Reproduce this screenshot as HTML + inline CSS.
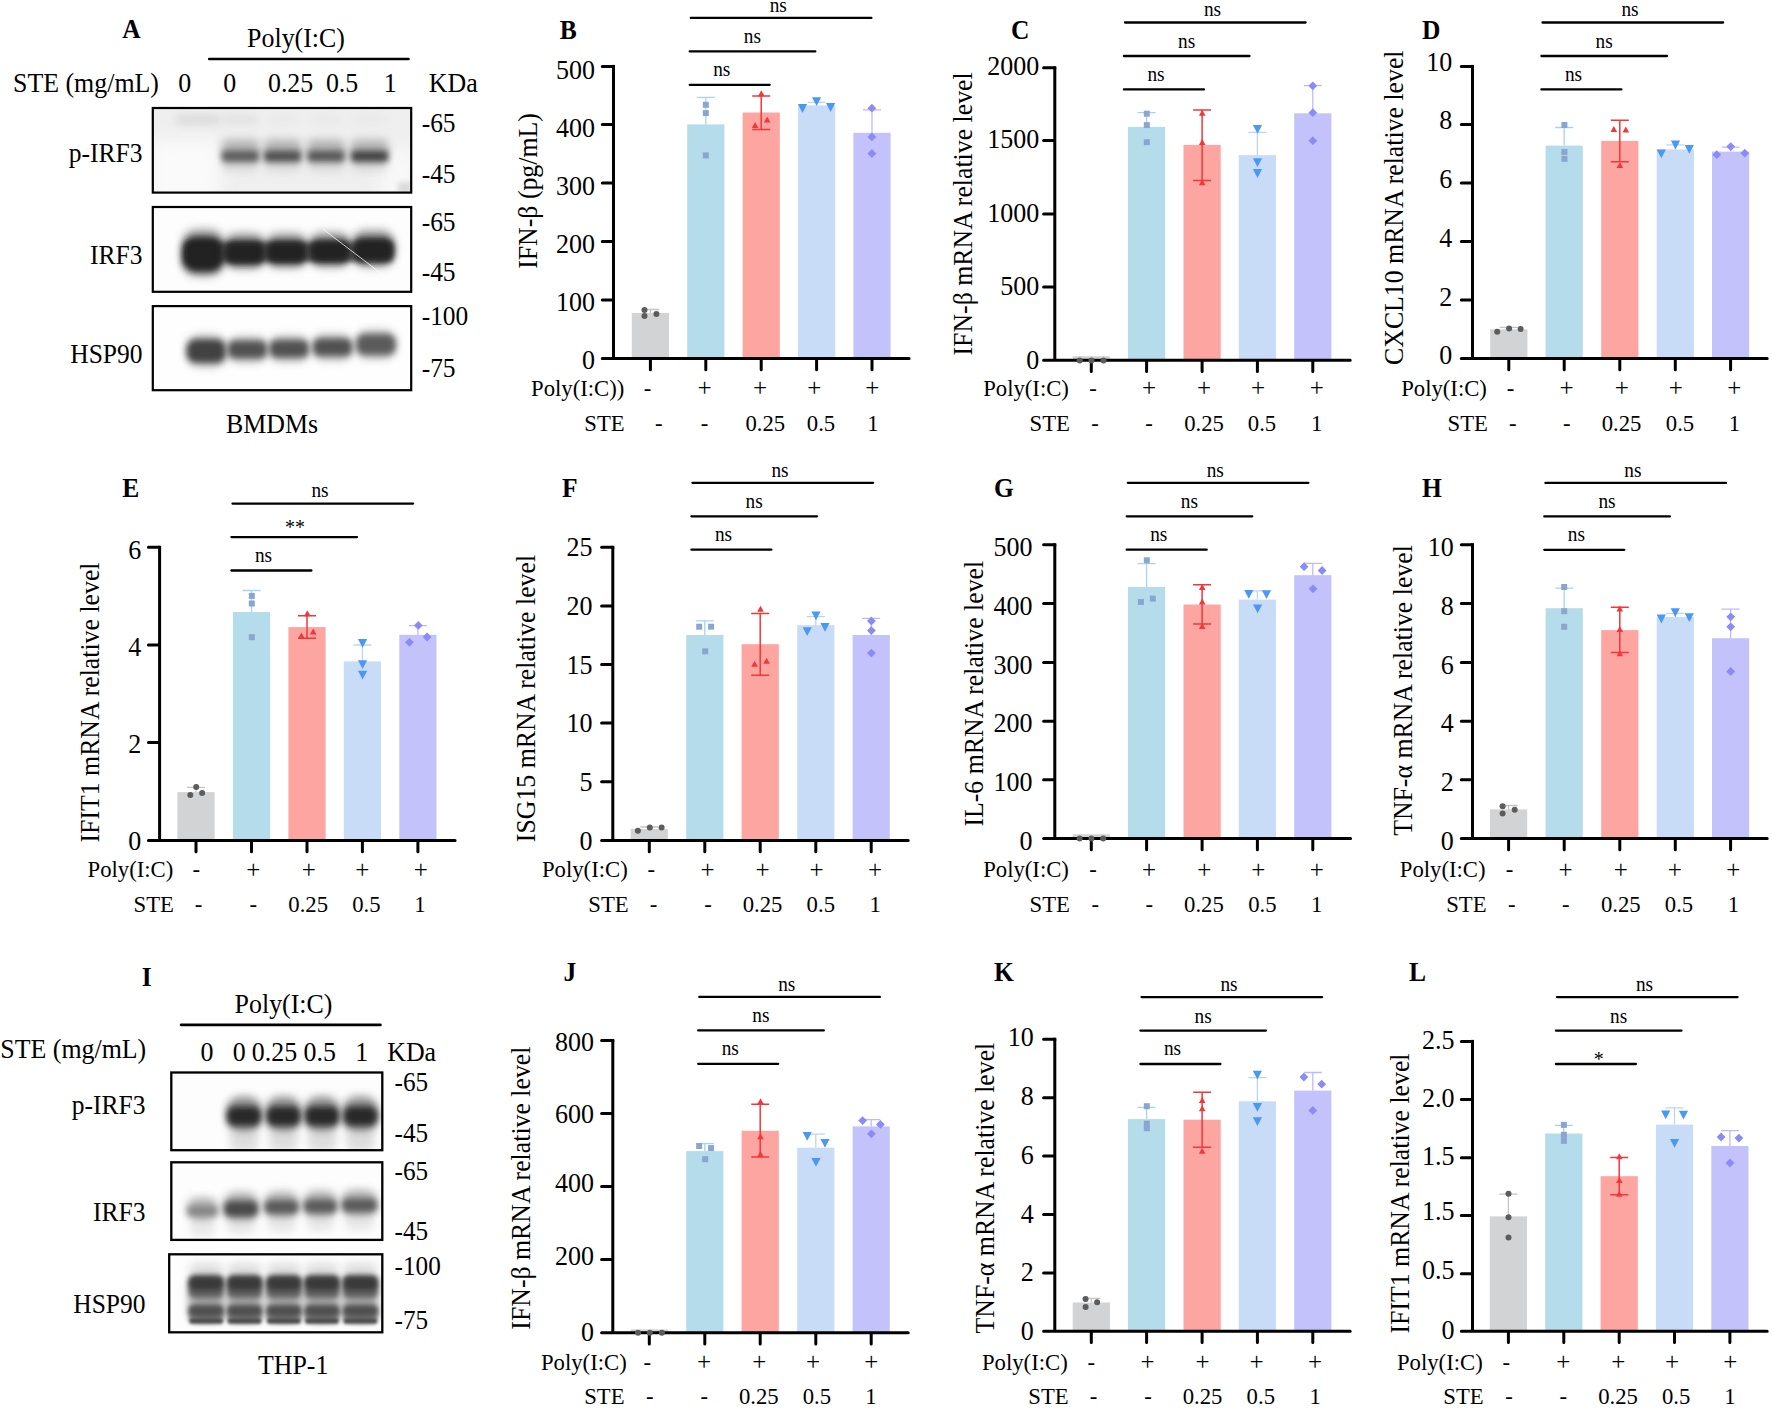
<!DOCTYPE html>
<html lang="en"><head><meta charset="utf-8"><title>Figure</title>
<style>
html,body{margin:0;padding:0;background:#fff;}
body{width:1772px;height:1408px;overflow:hidden;}
svg{display:block;font-family:"Liberation Serif", "DejaVu Serif", serif;fill:#000;}
</style></head><body>
<svg width="1772" height="1408" viewBox="0 0 1772 1408">
<rect width="1772" height="1408" fill="#fff"/>
<defs>
<filter id="b2" x="-50%" y="-100%" width="200%" height="300%"><feGaussianBlur stdDeviation="1.6"/></filter>
<filter id="b3" x="-50%" y="-100%" width="200%" height="300%"><feGaussianBlur stdDeviation="2.6"/></filter>
<filter id="b35" x="-50%" y="-100%" width="200%" height="300%"><feGaussianBlur stdDeviation="3.4"/></filter>
<filter id="b4" x="-50%" y="-100%" width="200%" height="300%"><feGaussianBlur stdDeviation="4.5"/></filter>
<filter id="b6" x="-50%" y="-100%" width="200%" height="300%"><feGaussianBlur stdDeviation="8"/></filter>
</defs>
<clipPath id="ca0"><rect x="152.8" y="108" width="258.4" height="84.6"/></clipPath>
<clipPath id="ca1"><rect x="152.8" y="207" width="258.4" height="84.80000000000001"/></clipPath>
<clipPath id="ca2"><rect x="152.8" y="306.1" width="258.4" height="84.09999999999997"/></clipPath>
<g clip-path="url(#ca0)"><rect x="152.8" y="108" width="258.4" height="84.6" fill="#efefef"/>
<rect x="150" y="140" width="70" height="60" fill="#fafafa" filter="url(#b6)"/>
<rect x="380" y="150" width="40" height="50" fill="#f8f8f8" filter="url(#b6)"/>
<rect x="176.0" y="114.5" width="44.0" height="10.0" rx="2.8" fill="#cacaca" opacity="0.55" filter="url(#b4)"/>
<rect x="223.7" y="114.5" width="34.0" height="10.0" rx="2.8" fill="#cacaca" opacity="0.35" filter="url(#b4)"/>
<rect x="267.4" y="114.5" width="30.0" height="10.0" rx="2.8" fill="#cacaca" opacity="0.15" filter="url(#b4)"/>
<rect x="310.8" y="114.5" width="30.0" height="10.0" rx="2.8" fill="#cacaca" opacity="0.15" filter="url(#b4)"/>
<rect x="352.1" y="114.5" width="34.0" height="10.0" rx="2.8" fill="#cacaca" opacity="0.15" filter="url(#b4)"/>
<rect x="398" y="182" width="14" height="12" fill="#cfcfcf" opacity="0.7" filter="url(#b3)"/>
<rect x="221.9" y="139.5" width="37.0" height="19.0" rx="5.2" fill="#858585" opacity="0.55" filter="url(#b4)"/>
<rect x="222.9" y="155.5" width="35.0" height="15.0" rx="4.1" fill="#aaa" opacity="0.4" filter="url(#b4)"/>
<rect x="221.9" y="150.7" width="37.0" height="11.0" rx="2.8" fill="#555" opacity="0.93" filter="url(#b35)"/>
<rect x="264.1" y="139.5" width="37.0" height="19.0" rx="5.2" fill="#858585" opacity="0.55" filter="url(#b4)"/>
<rect x="265.1" y="155.5" width="35.0" height="15.0" rx="4.1" fill="#aaa" opacity="0.4" filter="url(#b4)"/>
<rect x="264.1" y="150.7" width="37.0" height="11.0" rx="2.8" fill="#4a4a4a" opacity="0.95" filter="url(#b35)"/>
<rect x="307.5" y="139.5" width="37.0" height="19.0" rx="5.2" fill="#858585" opacity="0.55" filter="url(#b4)"/>
<rect x="308.5" y="155.5" width="35.0" height="15.0" rx="4.1" fill="#aaa" opacity="0.4" filter="url(#b4)"/>
<rect x="307.5" y="150.7" width="37.0" height="11.0" rx="2.8" fill="#505050" opacity="0.93" filter="url(#b35)"/>
<rect x="351.1" y="139.5" width="37.0" height="19.0" rx="5.2" fill="#858585" opacity="0.55" filter="url(#b4)"/>
<rect x="352.1" y="155.5" width="35.0" height="15.0" rx="4.1" fill="#aaa" opacity="0.4" filter="url(#b4)"/>
<rect x="351.1" y="150.7" width="37.0" height="11.0" rx="2.8" fill="#3e3e3e" opacity="0.97" filter="url(#b35)"/>
</g>
<g clip-path="url(#ca1)"><rect x="152.8" y="207" width="258.4" height="84.80000000000001" fill="#fdfdfd"/>
<rect x="186" y="243" width="206" height="18" fill="#333" opacity="0.75" filter="url(#b3)"/>
<rect x="182.0" y="229.2" width="42.0" height="47.0" rx="14.7" fill="#505050" opacity="0.55" filter="url(#b4)"/>
<rect x="182.0" y="236.7" width="42.0" height="35.0" rx="14.0" fill="#242424" opacity="1" filter="url(#b35)"/>
<rect x="223.7" y="233.0" width="42.0" height="36.0" rx="12.6" fill="#505050" opacity="0.55" filter="url(#b4)"/>
<rect x="223.7" y="240.5" width="42.0" height="24.0" rx="9.6" fill="#242424" opacity="1" filter="url(#b35)"/>
<rect x="265.5" y="233.0" width="42.0" height="35.0" rx="12.2" fill="#505050" opacity="0.55" filter="url(#b4)"/>
<rect x="265.5" y="240.5" width="42.0" height="23.0" rx="9.2" fill="#242424" opacity="1" filter="url(#b35)"/>
<rect x="308.9" y="232.2" width="42.0" height="35.0" rx="12.2" fill="#505050" opacity="0.55" filter="url(#b4)"/>
<rect x="308.9" y="239.7" width="42.0" height="23.0" rx="9.2" fill="#242424" opacity="1" filter="url(#b35)"/>
<rect x="352.2" y="230.0" width="42.0" height="37.0" rx="12.9" fill="#505050" opacity="0.55" filter="url(#b4)"/>
<rect x="352.2" y="237.5" width="42.0" height="25.0" rx="10.0" fill="#242424" opacity="1" filter="url(#b35)"/>
<path d="M323.3 229.3L382.2 274.3" stroke="#fff" stroke-width="0.9" opacity="0.85"/>
</g>
<g clip-path="url(#ca2)"><rect x="152.8" y="306.1" width="258.4" height="84.09999999999997" fill="#fefefe"/>
<rect x="186.3" y="335.0" width="40.0" height="32.0" rx="12.8" fill="#777" opacity="0.5" filter="url(#b4)"/>
<rect x="186.8" y="339.5" width="39.0" height="23.0" rx="9.2" fill="#383838" opacity="0.92" filter="url(#b35)"/>
<rect x="227.4" y="336.5" width="40.0" height="26.0" rx="10.4" fill="#777" opacity="0.5" filter="url(#b4)"/>
<rect x="227.9" y="341.0" width="39.0" height="17.0" rx="6.8" fill="#4a4a4a" opacity="0.92" filter="url(#b35)"/>
<rect x="269.1" y="335.8" width="40.0" height="26.0" rx="10.4" fill="#777" opacity="0.5" filter="url(#b4)"/>
<rect x="269.6" y="340.3" width="39.0" height="17.0" rx="6.8" fill="#4a4a4a" opacity="0.92" filter="url(#b35)"/>
<rect x="312.5" y="334.2" width="40.0" height="26.0" rx="10.4" fill="#777" opacity="0.5" filter="url(#b4)"/>
<rect x="313.0" y="338.7" width="39.0" height="17.0" rx="6.8" fill="#4a4a4a" opacity="0.92" filter="url(#b35)"/>
<rect x="355.9" y="330.0" width="40.0" height="29.0" rx="11.6" fill="#777" opacity="0.5" filter="url(#b4)"/>
<rect x="356.4" y="334.5" width="39.0" height="20.0" rx="8.0" fill="#525252" opacity="0.92" filter="url(#b35)"/>
</g>
<rect x="152.8" y="108" width="258.4" height="84.6" fill="none" stroke="#000" stroke-width="2.2"/>
<rect x="152.8" y="207" width="258.4" height="84.80000000000001" fill="none" stroke="#000" stroke-width="2.2"/>
<rect x="152.8" y="306.1" width="258.4" height="84.09999999999997" fill="none" stroke="#000" stroke-width="2.2"/>
<text transform="translate(122.3,38.2) scale(1,1.06)" font-size="25.5" text-anchor="start" font-weight="bold">A</text>
<text transform="translate(296.0,46.9) scale(1,1.06)" font-size="25.9" text-anchor="middle">Poly(I:C)</text>
<path d="M209.2 58.9H408.5" stroke="#000" stroke-width="2.5" stroke-linecap="round"/>
<text transform="translate(13.0,92.0) scale(1,1.06)" font-size="25.9" text-anchor="start">STE (mg/mL)</text>
<text transform="translate(184.7,92.0) scale(1,1.06)" font-size="25.9" text-anchor="middle">0</text>
<text transform="translate(229.6,92.0) scale(1,1.06)" font-size="25.9" text-anchor="middle">0</text>
<text transform="translate(290.6,92.0) scale(1,1.06)" font-size="25.9" text-anchor="middle">0.25</text>
<text transform="translate(342.1,92.0) scale(1,1.06)" font-size="25.9" text-anchor="middle">0.5</text>
<text transform="translate(390.3,92.0) scale(1,1.06)" font-size="25.9" text-anchor="middle">1</text>
<text transform="translate(428.8,92.0) scale(1,1.06)" font-size="25.9" text-anchor="start">KDa</text>
<text transform="translate(142.5,161.7) scale(1,1.06)" font-size="25.5" text-anchor="end">p-IRF3</text>
<text transform="translate(142.5,264.0) scale(1,1.06)" font-size="25.5" text-anchor="end">IRF3</text>
<text transform="translate(142.5,363.2) scale(1,1.06)" font-size="25.5" text-anchor="end">HSP90</text>
<text transform="translate(421.7,131.6) scale(1,1.06)" font-size="25.4" text-anchor="start">-65</text>
<text transform="translate(421.7,183.0) scale(1,1.06)" font-size="25.4" text-anchor="start">-45</text>
<text transform="translate(421.7,231.2) scale(1,1.06)" font-size="25.4" text-anchor="start">-65</text>
<text transform="translate(421.7,281.4) scale(1,1.06)" font-size="25.4" text-anchor="start">-45</text>
<text transform="translate(421.7,325.0) scale(1,1.06)" font-size="25.4" text-anchor="start">-100</text>
<text transform="translate(421.7,376.5) scale(1,1.06)" font-size="25.4" text-anchor="start">-75</text>
<text transform="translate(272.0,432.5) scale(1,1.06)" font-size="25.9" text-anchor="middle">BMDMs</text>
<clipPath id="ci0"><rect x="171.3" y="1072.5" width="211.0" height="77.70000000000005"/></clipPath>
<clipPath id="ci1"><rect x="171.3" y="1162.3" width="211.0" height="77.60000000000014"/></clipPath>
<clipPath id="ci2"><rect x="169.2" y="1254.3" width="213.10000000000002" height="78.0"/></clipPath>
<g clip-path="url(#ci0)"><rect x="171.3" y="1072.5" width="211.0" height="77.70000000000005" fill="#fdfdfd"/>
<rect x="230.0" y="1117.0" width="28.0" height="34.0" rx="7.7" fill="#bbb" opacity="0.5" filter="url(#b4)"/>
<rect x="226.5" y="1096.5" width="35.0" height="34.0" rx="13.6" fill="#555" opacity="0.65" filter="url(#b4)"/>
<rect x="227.0" y="1106.5" width="34.0" height="19.0" rx="7.6" fill="#282828" opacity="0.97" filter="url(#b35)"/>
<rect x="269.5" y="1117.0" width="28.0" height="34.0" rx="7.7" fill="#bbb" opacity="0.5" filter="url(#b4)"/>
<rect x="266.0" y="1096.5" width="35.0" height="34.0" rx="13.6" fill="#555" opacity="0.65" filter="url(#b4)"/>
<rect x="266.5" y="1106.5" width="34.0" height="19.0" rx="7.6" fill="#282828" opacity="0.97" filter="url(#b35)"/>
<rect x="308.0" y="1117.0" width="28.0" height="34.0" rx="7.7" fill="#bbb" opacity="0.5" filter="url(#b4)"/>
<rect x="304.5" y="1096.5" width="35.0" height="34.0" rx="13.6" fill="#555" opacity="0.65" filter="url(#b4)"/>
<rect x="305.0" y="1106.5" width="34.0" height="19.0" rx="7.6" fill="#282828" opacity="0.97" filter="url(#b35)"/>
<rect x="346.4" y="1117.0" width="28.0" height="34.0" rx="7.7" fill="#bbb" opacity="0.5" filter="url(#b4)"/>
<rect x="342.9" y="1096.5" width="35.0" height="34.0" rx="13.6" fill="#555" opacity="0.65" filter="url(#b4)"/>
<rect x="343.4" y="1106.5" width="34.0" height="19.0" rx="7.6" fill="#282828" opacity="0.97" filter="url(#b35)"/>
</g>
<g clip-path="url(#ci1)"><rect x="171.3" y="1162.3" width="211.0" height="77.60000000000014" fill="#fdfdfd"/>
<rect x="190.5" y="1210.0" width="24.0" height="26.0" rx="6.6" fill="#c8c8c8" opacity="0.4" filter="url(#b4)"/>
<rect x="187.5" y="1198.0" width="30.0" height="21.0" rx="8.4" fill="#7a7a7a" opacity="0.6" filter="url(#b4)"/>
<rect x="187.5" y="1206.8" width="30.0" height="8.5" rx="3.4" fill="#808080" opacity="0.95" filter="url(#b35)"/>
<rect x="227.0" y="1207.8" width="28.0" height="26.0" rx="7.2" fill="#c8c8c8" opacity="0.4" filter="url(#b4)"/>
<rect x="224.0" y="1192.3" width="34.0" height="28.0" rx="11.2" fill="#7a7a7a" opacity="0.6" filter="url(#b4)"/>
<rect x="224.0" y="1201.0" width="34.0" height="15.5" rx="6.2" fill="#444" opacity="0.95" filter="url(#b35)"/>
<rect x="267.5" y="1206.0" width="28.0" height="26.0" rx="7.2" fill="#c8c8c8" opacity="0.4" filter="url(#b4)"/>
<rect x="264.5" y="1191.8" width="34.0" height="25.5" rx="10.2" fill="#7a7a7a" opacity="0.6" filter="url(#b4)"/>
<rect x="264.5" y="1200.5" width="34.0" height="13.0" rx="5.2" fill="#545454" opacity="0.95" filter="url(#b35)"/>
<rect x="306.8" y="1205.2" width="27.0" height="26.0" rx="7.2" fill="#c8c8c8" opacity="0.4" filter="url(#b4)"/>
<rect x="303.8" y="1191.0" width="33.0" height="25.5" rx="10.2" fill="#7a7a7a" opacity="0.6" filter="url(#b4)"/>
<rect x="303.8" y="1199.7" width="33.0" height="13.0" rx="5.2" fill="#565656" opacity="0.95" filter="url(#b35)"/>
<rect x="344.9" y="1204.3" width="29.0" height="26.0" rx="7.2" fill="#c8c8c8" opacity="0.4" filter="url(#b4)"/>
<rect x="341.9" y="1190.0" width="35.0" height="25.5" rx="10.2" fill="#7a7a7a" opacity="0.6" filter="url(#b4)"/>
<rect x="341.9" y="1198.8" width="35.0" height="13.0" rx="5.2" fill="#565656" opacity="0.95" filter="url(#b35)"/>
</g>
<g clip-path="url(#ci2)"><rect x="169.2" y="1254.3" width="213.10000000000002" height="78.0" fill="#fdfdfd"/>
<rect x="189.2" y="1275.0" width="34.0" height="46.0" rx="10.2" fill="#7c7c7c" opacity="0.72" filter="url(#b4)"/>
<rect x="227.6" y="1275.0" width="34.0" height="46.0" rx="10.2" fill="#7c7c7c" opacity="0.72" filter="url(#b4)"/>
<rect x="266.9" y="1275.0" width="34.0" height="46.0" rx="10.2" fill="#7c7c7c" opacity="0.72" filter="url(#b4)"/>
<rect x="305.0" y="1275.0" width="34.0" height="46.0" rx="10.2" fill="#7c7c7c" opacity="0.72" filter="url(#b4)"/>
<rect x="343.4" y="1275.0" width="34.0" height="46.0" rx="10.2" fill="#7c7c7c" opacity="0.72" filter="url(#b4)"/>
<rect x="189.7" y="1263.0" width="33.0" height="14.0" rx="5.6" fill="#c4c4c4" opacity="0.5" filter="url(#b4)"/>
<rect x="188.7" y="1284.5" width="35.0" height="13.0" rx="4.5" fill="#505050" opacity="0.8" filter="url(#b3)"/>
<rect x="188.2" y="1275.2" width="36.0" height="14.5" rx="5.8" fill="#353535" opacity="0.95" filter="url(#b3)"/>
<rect x="189.2" y="1308.0" width="34.0" height="14.0" rx="3.5" fill="#4a4a4a" opacity="0.55" filter="url(#b3)"/>
<rect x="188.9" y="1305.0" width="34.5" height="11.0" rx="3.8" fill="#484848" opacity="0.85" filter="url(#b3)"/>
<rect x="189.4" y="1318.2" width="33.5" height="5.5" rx="1.9" fill="#3c3c3c" opacity="0.85" filter="url(#b2)"/>
<rect x="228.1" y="1263.0" width="33.0" height="14.0" rx="5.6" fill="#c4c4c4" opacity="0.5" filter="url(#b4)"/>
<rect x="227.1" y="1284.5" width="35.0" height="13.0" rx="4.5" fill="#505050" opacity="0.8" filter="url(#b3)"/>
<rect x="226.6" y="1275.2" width="36.0" height="14.5" rx="5.8" fill="#353535" opacity="0.95" filter="url(#b3)"/>
<rect x="227.6" y="1308.0" width="34.0" height="14.0" rx="3.5" fill="#4a4a4a" opacity="0.55" filter="url(#b3)"/>
<rect x="227.3" y="1305.0" width="34.5" height="11.0" rx="3.8" fill="#484848" opacity="0.85" filter="url(#b3)"/>
<rect x="227.8" y="1318.2" width="33.5" height="5.5" rx="1.9" fill="#3c3c3c" opacity="0.85" filter="url(#b2)"/>
<rect x="267.4" y="1263.0" width="33.0" height="14.0" rx="5.6" fill="#c4c4c4" opacity="0.5" filter="url(#b4)"/>
<rect x="266.4" y="1284.5" width="35.0" height="13.0" rx="4.5" fill="#505050" opacity="0.8" filter="url(#b3)"/>
<rect x="265.9" y="1275.2" width="36.0" height="14.5" rx="5.8" fill="#353535" opacity="0.95" filter="url(#b3)"/>
<rect x="266.9" y="1308.0" width="34.0" height="14.0" rx="3.5" fill="#4a4a4a" opacity="0.55" filter="url(#b3)"/>
<rect x="266.6" y="1305.0" width="34.5" height="11.0" rx="3.8" fill="#484848" opacity="0.85" filter="url(#b3)"/>
<rect x="267.1" y="1318.2" width="33.5" height="5.5" rx="1.9" fill="#3c3c3c" opacity="0.85" filter="url(#b2)"/>
<rect x="305.5" y="1263.0" width="33.0" height="14.0" rx="5.6" fill="#c4c4c4" opacity="0.5" filter="url(#b4)"/>
<rect x="304.5" y="1284.5" width="35.0" height="13.0" rx="4.5" fill="#505050" opacity="0.8" filter="url(#b3)"/>
<rect x="304.0" y="1275.2" width="36.0" height="14.5" rx="5.8" fill="#353535" opacity="0.95" filter="url(#b3)"/>
<rect x="305.0" y="1308.0" width="34.0" height="14.0" rx="3.5" fill="#4a4a4a" opacity="0.55" filter="url(#b3)"/>
<rect x="304.8" y="1305.0" width="34.5" height="11.0" rx="3.8" fill="#484848" opacity="0.85" filter="url(#b3)"/>
<rect x="305.2" y="1318.2" width="33.5" height="5.5" rx="1.9" fill="#3c3c3c" opacity="0.85" filter="url(#b2)"/>
<rect x="343.9" y="1263.0" width="33.0" height="14.0" rx="5.6" fill="#c4c4c4" opacity="0.5" filter="url(#b4)"/>
<rect x="342.9" y="1284.5" width="35.0" height="13.0" rx="4.5" fill="#505050" opacity="0.8" filter="url(#b3)"/>
<rect x="342.4" y="1275.2" width="36.0" height="14.5" rx="5.8" fill="#353535" opacity="0.95" filter="url(#b3)"/>
<rect x="343.4" y="1308.0" width="34.0" height="14.0" rx="3.5" fill="#4a4a4a" opacity="0.55" filter="url(#b3)"/>
<rect x="343.1" y="1305.0" width="34.5" height="11.0" rx="3.8" fill="#484848" opacity="0.85" filter="url(#b3)"/>
<rect x="343.6" y="1318.2" width="33.5" height="5.5" rx="1.9" fill="#3c3c3c" opacity="0.85" filter="url(#b2)"/>
</g>
<rect x="171.3" y="1072.5" width="211.0" height="77.70000000000005" fill="none" stroke="#000" stroke-width="2.3"/>
<rect x="171.3" y="1162.3" width="211.0" height="77.60000000000014" fill="none" stroke="#000" stroke-width="2.3"/>
<rect x="169.2" y="1254.3" width="213.10000000000002" height="78.0" fill="none" stroke="#000" stroke-width="2.3"/>
<text transform="translate(141.7,985.6) scale(1,1.06)" font-size="25.5" text-anchor="start" font-weight="bold">I</text>
<text transform="translate(283.5,1013.0) scale(1,1.06)" font-size="25.9" text-anchor="middle">Poly(I:C)</text>
<path d="M181.2 1024.9H380.3" stroke="#000" stroke-width="2.9" stroke-linecap="round"/>
<text transform="translate(0.3,1057.8) scale(1,1.06)" font-size="25.9" text-anchor="start">STE (mg/mL)</text>
<text transform="translate(206.9,1061.0) scale(1,1.06)" font-size="25.9" text-anchor="middle">0</text>
<text transform="translate(239.1,1061.0) scale(1,1.06)" font-size="25.9" text-anchor="middle">0</text>
<text transform="translate(274.5,1061.0) scale(1,1.06)" font-size="25.9" text-anchor="middle">0.25</text>
<text transform="translate(319.8,1061.0) scale(1,1.06)" font-size="25.9" text-anchor="middle">0.5</text>
<text transform="translate(361.8,1061.0) scale(1,1.06)" font-size="25.9" text-anchor="middle">1</text>
<text transform="translate(387.2,1061.0) scale(1,1.06)" font-size="25.9" text-anchor="start">KDa</text>
<text transform="translate(145.5,1113.8) scale(1,1.06)" font-size="25.5" text-anchor="end">p-IRF3</text>
<text transform="translate(145.5,1221.0) scale(1,1.06)" font-size="25.5" text-anchor="end">IRF3</text>
<text transform="translate(145.5,1313.0) scale(1,1.06)" font-size="25.5" text-anchor="end">HSP90</text>
<text transform="translate(394.6,1091.4) scale(1,1.06)" font-size="25.2" text-anchor="start">-65</text>
<text transform="translate(394.6,1141.7) scale(1,1.06)" font-size="25.2" text-anchor="start">-45</text>
<text transform="translate(394.6,1179.5) scale(1,1.06)" font-size="25.2" text-anchor="start">-65</text>
<text transform="translate(394.6,1239.7) scale(1,1.06)" font-size="25.2" text-anchor="start">-45</text>
<text transform="translate(394.6,1275.4) scale(1,1.06)" font-size="25.2" text-anchor="start">-100</text>
<text transform="translate(394.6,1328.5) scale(1,1.06)" font-size="25.2" text-anchor="start">-75</text>
<text transform="translate(293.2,1374.0) scale(1,1.06)" font-size="25.9" text-anchor="middle">THP-1</text>
<rect x="631.8" y="312.9" width="37.2" height="45.5" fill="#d2d3d5"/>
<rect x="687.2" y="124.4" width="37.2" height="234.0" fill="#b5dcea"/>
<rect x="742.6" y="112.5" width="37.2" height="245.9" fill="#fda5a0"/>
<rect x="798.0" y="105.4" width="37.2" height="253.0" fill="#c8dbf7"/>
<rect x="853.4" y="132.8" width="37.2" height="225.6" fill="#c3c2fb"/>
<path d="M650.4 309.5V312.9M641.4 309.5H659.4" stroke="#c4c4c4" stroke-width="1.3" fill="none"/>
<path d="M705.8 97.4V124.4M696.8 97.4H714.8" stroke="#a5d5e8" stroke-width="1.3" fill="none"/>
<path d="M761.2 95.9V129.4M752.2 95.9H770.2M752.2 129.4H770.2" stroke="#f2373a" stroke-width="1.5" fill="none"/>
<path d="M816.6 102.3V105.4M807.6 102.3H825.6" stroke="#bcd4f8" stroke-width="1.3" fill="none"/>
<path d="M872.0 109.8V132.8M863.0 109.8H881.0" stroke="#bdbafc" stroke-width="1.3" fill="none"/>
<path d="M613.5 66.4V358.4M602.3 358.4H909.1M602.3 66.4H613.5M602.3 124.6H613.5M602.3 183.0H613.5M602.3 241.6H613.5M602.3 299.9H613.5M650.4 358.4V369.7M705.8 358.4V369.7M761.2 358.4V369.7M816.6 358.4V369.7M872.0 358.4V369.7" stroke="#000" stroke-width="3.0" fill="none" stroke-linecap="round"/>
<rect x="612.00" y="64.90" width="3.0" height="3.0" fill="#000"/>
<circle cx="644.5" cy="310.0" r="3" fill="#5c5c5c"/>
<circle cx="644.5" cy="315.9" r="3" fill="#5c5c5c"/>
<circle cx="656.4" cy="314.0" r="3" fill="#5c5c5c"/>
<rect x="702.8" y="101.8" width="6" height="6" fill="#8aa5d0"/>
<rect x="702.8" y="110.1" width="6" height="6" fill="#8aa5d0"/>
<rect x="702.8" y="152.4" width="6" height="6" fill="#8aa5d0"/>
<path d="M761.3 90.3L764.6 96.3L758.0 96.3Z" fill="#f2373a"/>
<path d="M755.1 121.9L758.4 127.9L751.8 127.9Z" fill="#f2373a"/>
<path d="M767.2 116.6L770.5 122.6L763.9 122.6Z" fill="#f2373a"/>
<path d="M812.0 97.2L821.2 97.2L816.6 106.0Z" fill="#4a98f5"/>
<path d="M797.9 104.1L807.1 104.1L802.5 112.9Z" fill="#4a98f5"/>
<path d="M826.0 103.1L835.2 103.1L830.6 111.9Z" fill="#4a98f5"/>
<path d="M871.9 103.8L876.3 108.2L871.9 112.6L867.5 108.2Z" fill="#8b8bf8"/>
<path d="M871.9 132.5L876.3 136.9L871.9 141.3L867.5 136.9Z" fill="#8b8bf8"/>
<path d="M871.9 149.1L876.3 153.5L871.9 157.9L867.5 153.5Z" fill="#8b8bf8"/>
<text transform="translate(594.9,78.5) scale(1,1.06)" font-size="26" text-anchor="end">500</text>
<text transform="translate(594.9,136.5) scale(1,1.06)" font-size="26" text-anchor="end">400</text>
<text transform="translate(594.9,194.5) scale(1,1.06)" font-size="26" text-anchor="end">300</text>
<text transform="translate(594.9,252.5) scale(1,1.06)" font-size="26" text-anchor="end">200</text>
<text transform="translate(594.9,310.5) scale(1,1.06)" font-size="26" text-anchor="end">100</text>
<text transform="translate(594.9,368.5) scale(1,1.06)" font-size="26" text-anchor="end">0</text>
<text transform="translate(537.3,191.0) rotate(-90) scale(1,1.06)" font-size="25.8" text-anchor="middle">IFN-β (pg/mL)</text>
<path d="M689.7 84.8H769.7" stroke="#000" stroke-width="2.3" stroke-linecap="round"/>
<text transform="translate(721.8,76.1) scale(1,1.06)" font-size="19.3" text-anchor="middle">ns</text>
<path d="M689.7 51.4H815.3" stroke="#000" stroke-width="2.3" stroke-linecap="round"/>
<text transform="translate(752.4,43.3) scale(1,1.06)" font-size="19.3" text-anchor="middle">ns</text>
<path d="M690.8 17.9H871.4" stroke="#000" stroke-width="2.3" stroke-linecap="round"/>
<text transform="translate(778.3,11.6) scale(1,1.06)" font-size="19.3" text-anchor="middle">ns</text>
<text transform="translate(559.8,38.6) scale(1,1.06)" font-size="25.5" text-anchor="start" font-weight="bold">B</text>
<text transform="translate(624.3,396.0) scale(1,1.06)" font-size="22.7" text-anchor="end">Poly(I:C))</text>
<text transform="translate(647.6,396.0) scale(1,1.06)" font-size="22.7" text-anchor="middle">-</text>
<text x="704.6" y="396.3" font-size="25" text-anchor="middle">+</text>
<text x="760.0" y="396.3" font-size="25" text-anchor="middle">+</text>
<text x="814.2" y="396.3" font-size="25" text-anchor="middle">+</text>
<text x="872.2" y="396.3" font-size="25" text-anchor="middle">+</text>
<text transform="translate(624.6,431.0) scale(1,1.06)" font-size="22.7" text-anchor="end">STE</text>
<text transform="translate(658.9,431.0) scale(1,1.06)" font-size="22.7" text-anchor="middle">-</text>
<text transform="translate(704.6,431.0) scale(1,1.06)" font-size="22.7" text-anchor="middle">-</text>
<text transform="translate(765.3,431.0) scale(1,1.06)" font-size="22.7" text-anchor="middle">0.25</text>
<text transform="translate(821.0,431.0) scale(1,1.06)" font-size="22.7" text-anchor="middle">0.5</text>
<text transform="translate(873.0,431.0) scale(1,1.06)" font-size="22.7" text-anchor="middle">1</text>
<rect x="1072.7" y="356.2" width="37.2" height="4.1" fill="#d2d3d5"/>
<rect x="1128.0" y="126.9" width="37.2" height="233.4" fill="#b5dcea"/>
<rect x="1183.5" y="144.9" width="37.2" height="215.4" fill="#fda5a0"/>
<rect x="1238.8" y="155.1" width="37.2" height="205.2" fill="#c8dbf7"/>
<rect x="1294.2" y="113.3" width="37.2" height="247.0" fill="#c3c2fb"/>
<path d="M1146.6 112.7V126.9M1137.6 112.7H1155.6" stroke="#a5d5e8" stroke-width="1.3" fill="none"/>
<path d="M1202.1 110.0V180.4M1193.1 110.0H1211.1M1193.1 180.4H1211.1" stroke="#f2373a" stroke-width="1.5" fill="none"/>
<path d="M1257.4 132.3V155.1M1248.4 132.3H1266.4" stroke="#bcd4f8" stroke-width="1.3" fill="none"/>
<path d="M1312.8 85.6V113.3M1303.8 85.6H1321.8" stroke="#bdbafc" stroke-width="1.3" fill="none"/>
<path d="M1054.8 67.8V360.3M1043.6 360.3H1350.2M1043.6 67.8H1054.8M1043.6 140.6H1054.8M1043.6 214.1H1054.8M1043.6 287.0H1054.8M1091.3 360.3V371.6M1146.6 360.3V371.6M1202.1 360.3V371.6M1257.4 360.3V371.6M1312.8 360.3V371.6" stroke="#000" stroke-width="3.0" fill="none" stroke-linecap="round"/>
<rect x="1053.30" y="66.30" width="3.0" height="3.0" fill="#000"/>
<circle cx="1079.7" cy="360.4" r="3" fill="#5c5c5c"/>
<circle cx="1091.5" cy="360.4" r="3" fill="#5c5c5c"/>
<circle cx="1103.5" cy="360.4" r="3" fill="#5c5c5c"/>
<rect x="1143.8" y="110.7" width="6" height="6" fill="#8aa5d0"/>
<rect x="1143.8" y="122.1" width="6" height="6" fill="#8aa5d0"/>
<rect x="1143.8" y="139.2" width="6" height="6" fill="#8aa5d0"/>
<path d="M1202.2 109.7L1205.5 115.7L1198.9 115.7Z" fill="#f2373a"/>
<path d="M1202.2 139.1L1205.5 145.1L1198.9 145.1Z" fill="#f2373a"/>
<path d="M1202.2 179.3L1205.5 185.3L1198.9 185.3Z" fill="#f2373a"/>
<path d="M1252.9 125.0L1262.1 125.0L1257.5 133.8Z" fill="#4a98f5"/>
<path d="M1252.9 158.3L1262.1 158.3L1257.5 167.1Z" fill="#4a98f5"/>
<path d="M1252.9 169.1L1262.1 169.1L1257.5 177.9Z" fill="#4a98f5"/>
<path d="M1312.8 81.4L1317.2 85.8L1312.8 90.2L1308.4 85.8Z" fill="#8b8bf8"/>
<path d="M1312.8 108.3L1317.2 112.7L1312.8 117.1L1308.4 112.7Z" fill="#8b8bf8"/>
<path d="M1312.8 136.3L1317.2 140.7L1312.8 145.1L1308.4 140.7Z" fill="#8b8bf8"/>
<text transform="translate(1039.3,75.1) scale(1,1.06)" font-size="26" text-anchor="end">2000</text>
<text transform="translate(1039.3,148.3) scale(1,1.06)" font-size="26" text-anchor="end">1500</text>
<text transform="translate(1039.3,221.5) scale(1,1.06)" font-size="26" text-anchor="end">1000</text>
<text transform="translate(1039.3,295.1) scale(1,1.06)" font-size="26" text-anchor="end">500</text>
<text transform="translate(1039.3,368.5) scale(1,1.06)" font-size="26" text-anchor="end">0</text>
<text transform="translate(971.5,213.9) rotate(-90) scale(1,1.06)" font-size="25.8" text-anchor="middle">IFN-β mRNA relative level</text>
<path d="M1123.9 89.4H1203.9" stroke="#000" stroke-width="2.3" stroke-linecap="round"/>
<text transform="translate(1156.0,80.7) scale(1,1.06)" font-size="19.3" text-anchor="middle">ns</text>
<path d="M1123.9 56.0H1249.5" stroke="#000" stroke-width="2.3" stroke-linecap="round"/>
<text transform="translate(1186.6,47.9) scale(1,1.06)" font-size="19.3" text-anchor="middle">ns</text>
<path d="M1125.0 22.5H1305.6" stroke="#000" stroke-width="2.3" stroke-linecap="round"/>
<text transform="translate(1212.5,16.2) scale(1,1.06)" font-size="19.3" text-anchor="middle">ns</text>
<text transform="translate(1011.0,38.6) scale(1,1.06)" font-size="25.5" text-anchor="start" font-weight="bold">C</text>
<text transform="translate(1068.9,396.0) scale(1,1.06)" font-size="22.7" text-anchor="end">Poly(I:C)</text>
<text transform="translate(1093.0,396.0) scale(1,1.06)" font-size="22.7" text-anchor="middle">-</text>
<text x="1149.0" y="396.3" font-size="25" text-anchor="middle">+</text>
<text x="1204.0" y="396.3" font-size="25" text-anchor="middle">+</text>
<text x="1258.0" y="396.3" font-size="25" text-anchor="middle">+</text>
<text x="1316.7" y="396.3" font-size="25" text-anchor="middle">+</text>
<text transform="translate(1069.9,431.0) scale(1,1.06)" font-size="22.7" text-anchor="end">STE</text>
<text transform="translate(1095.0,431.0) scale(1,1.06)" font-size="22.7" text-anchor="middle">-</text>
<text transform="translate(1149.0,431.0) scale(1,1.06)" font-size="22.7" text-anchor="middle">-</text>
<text transform="translate(1204.0,431.0) scale(1,1.06)" font-size="22.7" text-anchor="middle">0.25</text>
<text transform="translate(1262.0,431.0) scale(1,1.06)" font-size="22.7" text-anchor="middle">0.5</text>
<text transform="translate(1316.7,431.0) scale(1,1.06)" font-size="22.7" text-anchor="middle">1</text>
<rect x="1490.2" y="329.3" width="37.2" height="29.2" fill="#d2d3d5"/>
<rect x="1545.6" y="145.6" width="37.2" height="212.9" fill="#b5dcea"/>
<rect x="1601.2" y="140.9" width="37.2" height="217.6" fill="#fda5a0"/>
<rect x="1656.7" y="149.4" width="37.2" height="209.1" fill="#c8dbf7"/>
<rect x="1712.0" y="151.6" width="37.2" height="206.9" fill="#c3c2fb"/>
<path d="M1508.8 327.4V329.3M1499.8 327.4H1517.8" stroke="#c4c4c4" stroke-width="1.3" fill="none"/>
<path d="M1564.2 127.5V145.6M1555.2 127.5H1573.2" stroke="#a5d5e8" stroke-width="1.3" fill="none"/>
<path d="M1619.8 120.3V161.8M1610.8 120.3H1628.8M1610.8 161.8H1628.8" stroke="#f2373a" stroke-width="1.5" fill="none"/>
<path d="M1675.3 144.8V149.4M1666.3 144.8H1684.3" stroke="#bcd4f8" stroke-width="1.3" fill="none"/>
<path d="M1730.6 147.1V151.6M1721.6 147.1H1739.6" stroke="#bdbafc" stroke-width="1.3" fill="none"/>
<path d="M1472.5 66.4V358.5M1461.3 358.5H1767.2M1461.3 66.4H1472.5M1461.3 124.6H1472.5M1461.3 183.1H1472.5M1461.3 241.6H1472.5M1461.3 300.1H1472.5M1508.8 358.5V369.8M1564.2 358.5V369.8M1619.8 358.5V369.8M1675.3 358.5V369.8M1730.6 358.5V369.8" stroke="#000" stroke-width="3.0" fill="none" stroke-linecap="round"/>
<rect x="1471.00" y="64.90" width="3.0" height="3.0" fill="#000"/>
<circle cx="1497.2" cy="331.8" r="3" fill="#5c5c5c"/>
<circle cx="1509.1" cy="328.4" r="3" fill="#5c5c5c"/>
<circle cx="1520.6" cy="328.9" r="3" fill="#5c5c5c"/>
<rect x="1561.4" y="122.0" width="6" height="6" fill="#8aa5d0"/>
<rect x="1561.4" y="148.9" width="6" height="6" fill="#8aa5d0"/>
<rect x="1561.4" y="155.8" width="6" height="6" fill="#8aa5d0"/>
<path d="M1613.8 125.9L1617.1 131.9L1610.5 131.9Z" fill="#f2373a"/>
<path d="M1625.8 126.6L1629.1 132.6L1622.5 132.6Z" fill="#f2373a"/>
<path d="M1619.9 162.0L1623.2 168.0L1616.6 168.0Z" fill="#f2373a"/>
<path d="M1670.9 140.6L1680.1 140.6L1675.5 149.4Z" fill="#4a98f5"/>
<path d="M1656.7 149.4L1665.9 149.4L1661.3 158.2Z" fill="#4a98f5"/>
<path d="M1684.7 144.9L1693.9 144.9L1689.3 153.7Z" fill="#4a98f5"/>
<path d="M1730.7 142.2L1735.1 146.6L1730.7 151.0L1726.3 146.6Z" fill="#8b8bf8"/>
<path d="M1716.8 150.3L1721.2 154.7L1716.8 159.1L1712.4 154.7Z" fill="#8b8bf8"/>
<path d="M1744.8 148.8L1749.2 153.2L1744.8 157.6L1740.4 153.2Z" fill="#8b8bf8"/>
<text transform="translate(1452.2,70.5) scale(1,1.06)" font-size="26" text-anchor="end">10</text>
<text transform="translate(1452.2,129.3) scale(1,1.06)" font-size="26" text-anchor="end">8</text>
<text transform="translate(1452.2,188.1) scale(1,1.06)" font-size="26" text-anchor="end">6</text>
<text transform="translate(1452.2,246.8) scale(1,1.06)" font-size="26" text-anchor="end">4</text>
<text transform="translate(1452.2,305.6) scale(1,1.06)" font-size="26" text-anchor="end">2</text>
<text transform="translate(1452.2,364.4) scale(1,1.06)" font-size="26" text-anchor="end">0</text>
<text transform="translate(1403.2,207.7) rotate(-90) scale(1,1.06)" font-size="25.8" text-anchor="middle">CXCL10 mRNA relative level</text>
<path d="M1541.4 89.4H1621.4" stroke="#000" stroke-width="2.3" stroke-linecap="round"/>
<text transform="translate(1573.5,80.7) scale(1,1.06)" font-size="19.3" text-anchor="middle">ns</text>
<path d="M1541.4 56.0H1667.0" stroke="#000" stroke-width="2.3" stroke-linecap="round"/>
<text transform="translate(1604.1,47.9) scale(1,1.06)" font-size="19.3" text-anchor="middle">ns</text>
<path d="M1542.5 22.5H1723.1" stroke="#000" stroke-width="2.3" stroke-linecap="round"/>
<text transform="translate(1630.0,16.2) scale(1,1.06)" font-size="19.3" text-anchor="middle">ns</text>
<text transform="translate(1422.0,38.6) scale(1,1.06)" font-size="25.5" text-anchor="start" font-weight="bold">D</text>
<text transform="translate(1486.9,396.0) scale(1,1.06)" font-size="22.7" text-anchor="end">Poly(I:C)</text>
<text transform="translate(1510.6,396.0) scale(1,1.06)" font-size="22.7" text-anchor="middle">-</text>
<text x="1566.5" y="396.3" font-size="25" text-anchor="middle">+</text>
<text x="1621.8" y="396.3" font-size="25" text-anchor="middle">+</text>
<text x="1675.8" y="396.3" font-size="25" text-anchor="middle">+</text>
<text x="1734.3" y="396.3" font-size="25" text-anchor="middle">+</text>
<text transform="translate(1487.9,431.0) scale(1,1.06)" font-size="22.7" text-anchor="end">STE</text>
<text transform="translate(1512.8,431.0) scale(1,1.06)" font-size="22.7" text-anchor="middle">-</text>
<text transform="translate(1566.8,431.0) scale(1,1.06)" font-size="22.7" text-anchor="middle">-</text>
<text transform="translate(1621.5,431.0) scale(1,1.06)" font-size="22.7" text-anchor="middle">0.25</text>
<text transform="translate(1680.0,431.0) scale(1,1.06)" font-size="22.7" text-anchor="middle">0.5</text>
<text transform="translate(1734.3,431.0) scale(1,1.06)" font-size="22.7" text-anchor="middle">1</text>
<rect x="177.4" y="792.1" width="37.2" height="48.3" fill="#d2d3d5"/>
<rect x="232.9" y="612.0" width="37.2" height="228.4" fill="#b5dcea"/>
<rect x="288.4" y="627.1" width="37.2" height="213.3" fill="#fda5a0"/>
<rect x="343.8" y="661.4" width="37.2" height="179.0" fill="#c8dbf7"/>
<rect x="399.3" y="634.8" width="37.2" height="205.6" fill="#c3c2fb"/>
<path d="M196.0 787.3V792.1M187.0 787.3H205.0" stroke="#c4c4c4" stroke-width="1.3" fill="none"/>
<path d="M251.5 590.5V612.0M242.5 590.5H260.5" stroke="#a5d5e8" stroke-width="1.3" fill="none"/>
<path d="M307.0 615.7V638.2M298.0 615.7H316.0M298.0 638.2H316.0" stroke="#f2373a" stroke-width="1.5" fill="none"/>
<path d="M362.4 645.0V661.4M353.4 645.0H371.4" stroke="#bcd4f8" stroke-width="1.3" fill="none"/>
<path d="M417.9 625.7V634.8M408.9 625.7H426.9" stroke="#bdbafc" stroke-width="1.3" fill="none"/>
<path d="M159.6 547.3V840.4M148.4 840.4H455.1M148.4 547.3H159.6M148.4 645.1H159.6M148.4 742.6H159.6M196.0 840.4V851.7M251.5 840.4V851.7M307.0 840.4V851.7M362.4 840.4V851.7M417.9 840.4V851.7" stroke="#000" stroke-width="3.0" fill="none" stroke-linecap="round"/>
<rect x="158.10" y="545.80" width="3.0" height="3.0" fill="#000"/>
<circle cx="196.2" cy="786.9" r="3" fill="#5c5c5c"/>
<circle cx="190.3" cy="795.0" r="3" fill="#5c5c5c"/>
<circle cx="202.1" cy="793.0" r="3" fill="#5c5c5c"/>
<rect x="248.8" y="592.9" width="6" height="6" fill="#8aa5d0"/>
<rect x="248.8" y="600.5" width="6" height="6" fill="#8aa5d0"/>
<rect x="248.8" y="634.2" width="6" height="6" fill="#8aa5d0"/>
<path d="M307.3 610.3L310.6 616.3L304.0 616.3Z" fill="#f2373a"/>
<path d="M313.2 628.4L316.5 634.4L309.9 634.4Z" fill="#f2373a"/>
<path d="M301.4 632.6L304.7 638.6L298.1 638.6Z" fill="#f2373a"/>
<path d="M358.0 638.9L367.2 638.9L362.6 647.7Z" fill="#4a98f5"/>
<path d="M358.0 660.3L367.2 660.3L362.6 669.1Z" fill="#4a98f5"/>
<path d="M358.0 670.8L367.2 670.8L362.6 679.6Z" fill="#4a98f5"/>
<path d="M418.3 621.0L422.7 625.4L418.3 629.8L413.9 625.4Z" fill="#8b8bf8"/>
<path d="M427.1 632.6L431.5 637.0L427.1 641.4L422.7 637.0Z" fill="#8b8bf8"/>
<path d="M409.4 637.9L413.8 642.3L409.4 646.7L405.0 642.3Z" fill="#8b8bf8"/>
<text transform="translate(141.3,559.4) scale(1,1.06)" font-size="26" text-anchor="end">6</text>
<text transform="translate(141.3,656.0) scale(1,1.06)" font-size="26" text-anchor="end">4</text>
<text transform="translate(141.3,753.1) scale(1,1.06)" font-size="26" text-anchor="end">2</text>
<text transform="translate(141.3,850.0) scale(1,1.06)" font-size="26" text-anchor="end">0</text>
<text transform="translate(98.5,702.5) rotate(-90) scale(1,1.06)" font-size="25.8" text-anchor="middle">IFIT1 mRNA relative level</text>
<path d="M231.4 570.5H311.4" stroke="#000" stroke-width="2.3" stroke-linecap="round"/>
<text transform="translate(263.5,561.8) scale(1,1.06)" font-size="19.3" text-anchor="middle">ns</text>
<path d="M231.4 537.1H357.0" stroke="#000" stroke-width="2.3" stroke-linecap="round"/>
<text transform="translate(295.1,534.0) scale(1,1.06)" font-size="20" text-anchor="middle">**</text>
<path d="M232.5 503.6H413.1" stroke="#000" stroke-width="2.3" stroke-linecap="round"/>
<text transform="translate(320.0,497.3) scale(1,1.06)" font-size="19.3" text-anchor="middle">ns</text>
<text transform="translate(122.3,497.0) scale(1,1.06)" font-size="25.5" text-anchor="start" font-weight="bold">E</text>
<text transform="translate(173.3,877.3) scale(1,1.06)" font-size="22.7" text-anchor="end">Poly(I:C)</text>
<text transform="translate(196.4,877.3) scale(1,1.06)" font-size="22.7" text-anchor="middle">-</text>
<text x="253.3" y="877.6" font-size="25" text-anchor="middle">+</text>
<text x="308.9" y="877.6" font-size="25" text-anchor="middle">+</text>
<text x="362.2" y="877.6" font-size="25" text-anchor="middle">+</text>
<text x="420.7" y="877.6" font-size="25" text-anchor="middle">+</text>
<text transform="translate(173.9,912.4) scale(1,1.06)" font-size="22.7" text-anchor="end">STE</text>
<text transform="translate(198.6,912.4) scale(1,1.06)" font-size="22.7" text-anchor="middle">-</text>
<text transform="translate(253.3,912.4) scale(1,1.06)" font-size="22.7" text-anchor="middle">-</text>
<text transform="translate(308.2,912.4) scale(1,1.06)" font-size="22.7" text-anchor="middle">0.25</text>
<text transform="translate(366.4,912.4) scale(1,1.06)" font-size="22.7" text-anchor="middle">0.5</text>
<text transform="translate(420.0,912.4) scale(1,1.06)" font-size="22.7" text-anchor="middle">1</text>
<rect x="630.7" y="829.0" width="37.2" height="11.4" fill="#d2d3d5"/>
<rect x="686.2" y="635.0" width="37.2" height="205.4" fill="#b5dcea"/>
<rect x="741.6" y="644.2" width="37.2" height="196.2" fill="#fda5a0"/>
<rect x="797.2" y="625.2" width="37.2" height="215.2" fill="#c8dbf7"/>
<rect x="852.6" y="635.0" width="37.2" height="205.4" fill="#c3c2fb"/>
<path d="M649.3 827.0V829.0M640.3 827.0H658.3" stroke="#c4c4c4" stroke-width="1.3" fill="none"/>
<path d="M704.8 620.8V635.0M695.8 620.8H713.8" stroke="#a5d5e8" stroke-width="1.3" fill="none"/>
<path d="M760.2 613.5V675.2M751.2 613.5H769.2M751.2 675.2H769.2" stroke="#f2373a" stroke-width="1.5" fill="none"/>
<path d="M815.8 616.7V625.2M806.8 616.7H824.8" stroke="#bcd4f8" stroke-width="1.3" fill="none"/>
<path d="M871.2 618.3V635.0M862.2 618.3H880.2" stroke="#bdbafc" stroke-width="1.3" fill="none"/>
<path d="M612.8 547.3V840.4M601.6 840.4H908.2M601.6 547.3H612.8M601.6 606.1H612.8M601.6 664.6H612.8M601.6 723.1H612.8M601.6 781.7H612.8M649.3 840.4V851.7M704.8 840.4V851.7M760.2 840.4V851.7M815.8 840.4V851.7M871.2 840.4V851.7" stroke="#000" stroke-width="3.0" fill="none" stroke-linecap="round"/>
<rect x="611.30" y="545.80" width="3.0" height="3.0" fill="#000"/>
<circle cx="637.9" cy="830.8" r="3" fill="#5c5c5c"/>
<circle cx="649.8" cy="827.6" r="3" fill="#5c5c5c"/>
<circle cx="661.6" cy="827.6" r="3" fill="#5c5c5c"/>
<rect x="696.2" y="623.7" width="6" height="6" fill="#8aa5d0"/>
<rect x="708.1" y="623.7" width="6" height="6" fill="#8aa5d0"/>
<rect x="702.2" y="648.3" width="6" height="6" fill="#8aa5d0"/>
<path d="M760.5 605.7L763.8 611.7L757.2 611.7Z" fill="#f2373a"/>
<path d="M754.6 660.7L757.9 666.7L751.3 666.7Z" fill="#f2373a"/>
<path d="M766.6 657.7L769.9 663.7L763.3 663.7Z" fill="#f2373a"/>
<path d="M811.4 611.5L820.6 611.5L816.0 620.3Z" fill="#4a98f5"/>
<path d="M802.6 627.3L811.8 627.3L807.2 636.1Z" fill="#4a98f5"/>
<path d="M820.4 623.0L829.6 623.0L825.0 631.8Z" fill="#4a98f5"/>
<path d="M871.4 616.6L875.8 621.0L871.4 625.4L867.0 621.0Z" fill="#8b8bf8"/>
<path d="M871.4 626.2L875.8 630.6L871.4 635.0L867.0 630.6Z" fill="#8b8bf8"/>
<path d="M871.4 648.7L875.8 653.1L871.4 657.5L867.0 653.1Z" fill="#8b8bf8"/>
<text transform="translate(592.5,556.3) scale(1,1.06)" font-size="26" text-anchor="end">25</text>
<text transform="translate(592.5,615.0) scale(1,1.06)" font-size="26" text-anchor="end">20</text>
<text transform="translate(592.5,673.7) scale(1,1.06)" font-size="26" text-anchor="end">15</text>
<text transform="translate(592.5,732.4) scale(1,1.06)" font-size="26" text-anchor="end">10</text>
<text transform="translate(592.5,791.1) scale(1,1.06)" font-size="26" text-anchor="end">5</text>
<text transform="translate(592.5,849.8) scale(1,1.06)" font-size="26" text-anchor="end">0</text>
<text transform="translate(535.4,698.5) rotate(-90) scale(1,1.06)" font-size="25.8" text-anchor="middle">ISG15 mRNA relative level</text>
<path d="M691.4 549.7H771.4" stroke="#000" stroke-width="2.3" stroke-linecap="round"/>
<text transform="translate(723.5,541.0) scale(1,1.06)" font-size="19.3" text-anchor="middle">ns</text>
<path d="M691.4 516.3H817.0" stroke="#000" stroke-width="2.3" stroke-linecap="round"/>
<text transform="translate(754.1,508.2) scale(1,1.06)" font-size="19.3" text-anchor="middle">ns</text>
<path d="M692.5 482.8H873.1" stroke="#000" stroke-width="2.3" stroke-linecap="round"/>
<text transform="translate(780.0,476.5) scale(1,1.06)" font-size="19.3" text-anchor="middle">ns</text>
<text transform="translate(562.0,497.0) scale(1,1.06)" font-size="25.5" text-anchor="start" font-weight="bold">F</text>
<text transform="translate(627.7,877.3) scale(1,1.06)" font-size="22.7" text-anchor="end">Poly(I:C)</text>
<text transform="translate(651.4,877.3) scale(1,1.06)" font-size="22.7" text-anchor="middle">-</text>
<text x="707.6" y="877.6" font-size="25" text-anchor="middle">+</text>
<text x="762.6" y="877.6" font-size="25" text-anchor="middle">+</text>
<text x="816.6" y="877.6" font-size="25" text-anchor="middle">+</text>
<text x="875.1" y="877.6" font-size="25" text-anchor="middle">+</text>
<text transform="translate(628.6,912.4) scale(1,1.06)" font-size="22.7" text-anchor="end">STE</text>
<text transform="translate(653.6,912.4) scale(1,1.06)" font-size="22.7" text-anchor="middle">-</text>
<text transform="translate(708.0,912.4) scale(1,1.06)" font-size="22.7" text-anchor="middle">-</text>
<text transform="translate(762.6,912.4) scale(1,1.06)" font-size="22.7" text-anchor="middle">0.25</text>
<text transform="translate(820.8,912.4) scale(1,1.06)" font-size="22.7" text-anchor="middle">0.5</text>
<text transform="translate(875.1,912.4) scale(1,1.06)" font-size="22.7" text-anchor="middle">1</text>
<rect x="1072.7" y="834.3" width="37.2" height="4.2" fill="#d2d3d5"/>
<rect x="1128.0" y="586.9" width="37.2" height="251.6" fill="#b5dcea"/>
<rect x="1183.5" y="604.5" width="37.2" height="234.0" fill="#fda5a0"/>
<rect x="1238.8" y="599.6" width="37.2" height="238.9" fill="#c8dbf7"/>
<rect x="1294.2" y="575.2" width="37.2" height="263.3" fill="#c3c2fb"/>
<path d="M1146.6 563.7V586.9M1137.6 563.7H1155.6" stroke="#a5d5e8" stroke-width="1.3" fill="none"/>
<path d="M1202.1 584.7V624.1M1193.1 584.7H1211.1M1193.1 624.1H1211.1" stroke="#f2373a" stroke-width="1.5" fill="none"/>
<path d="M1257.4 590.8V599.6M1248.4 590.8H1266.4" stroke="#bcd4f8" stroke-width="1.3" fill="none"/>
<path d="M1312.8 563.4V575.2M1303.8 563.4H1321.8" stroke="#bdbafc" stroke-width="1.3" fill="none"/>
<path d="M1054.8 544.8V838.5M1043.6 838.5H1350.6M1043.6 544.8H1054.8M1043.6 603.6H1054.8M1043.6 662.4H1054.8M1043.6 721.2H1054.8M1043.6 779.7H1054.8M1091.3 838.5V849.8M1146.6 838.5V849.8M1202.1 838.5V849.8M1257.4 838.5V849.8M1312.8 838.5V849.8" stroke="#000" stroke-width="3.0" fill="none" stroke-linecap="round"/>
<rect x="1053.30" y="543.30" width="3.0" height="3.0" fill="#000"/>
<circle cx="1079.6" cy="838.5" r="3" fill="#5c5c5c"/>
<circle cx="1091.4" cy="838.5" r="3" fill="#5c5c5c"/>
<circle cx="1103.2" cy="838.5" r="3" fill="#5c5c5c"/>
<rect x="1143.8" y="557.3" width="6" height="6" fill="#8aa5d0"/>
<rect x="1137.9" y="599.0" width="6" height="6" fill="#8aa5d0"/>
<rect x="1149.8" y="595.6" width="6" height="6" fill="#8aa5d0"/>
<path d="M1202.2 584.0L1205.5 590.0L1198.9 590.0Z" fill="#f2373a"/>
<path d="M1202.2 598.4L1205.5 604.4L1198.9 604.4Z" fill="#f2373a"/>
<path d="M1202.2 622.9L1205.5 628.9L1198.9 628.9Z" fill="#f2373a"/>
<path d="M1244.2 590.0L1253.4 590.0L1248.8 598.8Z" fill="#4a98f5"/>
<path d="M1261.9 590.3L1271.1 590.3L1266.5 599.1Z" fill="#4a98f5"/>
<path d="M1253.0 604.4L1262.2 604.4L1257.6 613.2Z" fill="#4a98f5"/>
<path d="M1304.1 562.3L1308.5 566.7L1304.1 571.1L1299.7 566.7Z" fill="#8b8bf8"/>
<path d="M1322.1 566.1L1326.5 570.5L1322.1 574.9L1317.7 570.5Z" fill="#8b8bf8"/>
<path d="M1313.1 584.4L1317.5 588.8L1313.1 593.2L1308.7 588.8Z" fill="#8b8bf8"/>
<text transform="translate(1032.5,556.3) scale(1,1.06)" font-size="26" text-anchor="end">500</text>
<text transform="translate(1032.5,615.0) scale(1,1.06)" font-size="26" text-anchor="end">400</text>
<text transform="translate(1032.5,673.7) scale(1,1.06)" font-size="26" text-anchor="end">300</text>
<text transform="translate(1032.5,732.4) scale(1,1.06)" font-size="26" text-anchor="end">200</text>
<text transform="translate(1032.5,791.1) scale(1,1.06)" font-size="26" text-anchor="end">100</text>
<text transform="translate(1032.5,849.8) scale(1,1.06)" font-size="26" text-anchor="end">0</text>
<text transform="translate(982.7,693.7) rotate(-90) scale(1,1.06)" font-size="25.8" text-anchor="middle">IL-6 mRNA relative level</text>
<path d="M1126.7 549.7H1206.7" stroke="#000" stroke-width="2.3" stroke-linecap="round"/>
<text transform="translate(1158.8,541.0) scale(1,1.06)" font-size="19.3" text-anchor="middle">ns</text>
<path d="M1126.7 516.3H1252.3" stroke="#000" stroke-width="2.3" stroke-linecap="round"/>
<text transform="translate(1189.4,508.2) scale(1,1.06)" font-size="19.3" text-anchor="middle">ns</text>
<path d="M1127.8 482.8H1308.4" stroke="#000" stroke-width="2.3" stroke-linecap="round"/>
<text transform="translate(1215.3,476.5) scale(1,1.06)" font-size="19.3" text-anchor="middle">ns</text>
<text transform="translate(994.0,497.0) scale(1,1.06)" font-size="25.5" text-anchor="start" font-weight="bold">G</text>
<text transform="translate(1068.9,877.3) scale(1,1.06)" font-size="22.7" text-anchor="end">Poly(I:C)</text>
<text transform="translate(1093.0,877.3) scale(1,1.06)" font-size="22.7" text-anchor="middle">-</text>
<text x="1149.0" y="877.6" font-size="25" text-anchor="middle">+</text>
<text x="1204.2" y="877.6" font-size="25" text-anchor="middle">+</text>
<text x="1258.2" y="877.6" font-size="25" text-anchor="middle">+</text>
<text x="1316.7" y="877.6" font-size="25" text-anchor="middle">+</text>
<text transform="translate(1069.9,912.4) scale(1,1.06)" font-size="22.7" text-anchor="end">STE</text>
<text transform="translate(1095.2,912.4) scale(1,1.06)" font-size="22.7" text-anchor="middle">-</text>
<text transform="translate(1149.2,912.4) scale(1,1.06)" font-size="22.7" text-anchor="middle">-</text>
<text transform="translate(1203.9,912.4) scale(1,1.06)" font-size="22.7" text-anchor="middle">0.25</text>
<text transform="translate(1262.4,912.4) scale(1,1.06)" font-size="22.7" text-anchor="middle">0.5</text>
<text transform="translate(1316.7,912.4) scale(1,1.06)" font-size="22.7" text-anchor="middle">1</text>
<rect x="1490.0" y="809.4" width="37.2" height="29.1" fill="#d2d3d5"/>
<rect x="1545.6" y="608.2" width="37.2" height="230.3" fill="#b5dcea"/>
<rect x="1601.2" y="630.1" width="37.2" height="208.4" fill="#fda5a0"/>
<rect x="1656.7" y="617.0" width="37.2" height="221.5" fill="#c8dbf7"/>
<rect x="1712.0" y="638.2" width="37.2" height="200.3" fill="#c3c2fb"/>
<path d="M1508.6 805.5V809.4M1499.6 805.5H1517.6" stroke="#c4c4c4" stroke-width="1.3" fill="none"/>
<path d="M1564.2 588.1V608.2M1555.2 588.1H1573.2" stroke="#a5d5e8" stroke-width="1.3" fill="none"/>
<path d="M1619.8 607.2V652.6M1610.8 607.2H1628.8M1610.8 652.6H1628.8" stroke="#f2373a" stroke-width="1.5" fill="none"/>
<path d="M1675.3 613.3V617.0M1666.3 613.3H1684.3" stroke="#bcd4f8" stroke-width="1.3" fill="none"/>
<path d="M1730.6 609.2V638.2M1721.6 609.2H1739.6" stroke="#bdbafc" stroke-width="1.3" fill="none"/>
<path d="M1472.5 544.8V838.5M1461.3 838.5H1767.2M1461.3 544.8H1472.5M1461.3 603.6H1472.5M1461.3 662.4H1472.5M1461.3 721.2H1472.5M1461.3 779.7H1472.5M1508.6 838.5V849.8M1564.2 838.5V849.8M1619.8 838.5V849.8M1675.3 838.5V849.8M1730.6 838.5V849.8" stroke="#000" stroke-width="3.0" fill="none" stroke-linecap="round"/>
<rect x="1471.00" y="543.30" width="3.0" height="3.0" fill="#000"/>
<circle cx="1502.6" cy="806.2" r="3" fill="#5c5c5c"/>
<circle cx="1502.6" cy="813.6" r="3" fill="#5c5c5c"/>
<circle cx="1514.7" cy="809.7" r="3" fill="#5c5c5c"/>
<rect x="1561.2" y="584.0" width="6" height="6" fill="#8aa5d0"/>
<rect x="1561.2" y="608.2" width="6" height="6" fill="#8aa5d0"/>
<rect x="1561.2" y="623.8" width="6" height="6" fill="#8aa5d0"/>
<path d="M1619.8 605.5L1623.1 611.5L1616.5 611.5Z" fill="#f2373a"/>
<path d="M1619.8 626.1L1623.1 632.1L1616.5 632.1Z" fill="#f2373a"/>
<path d="M1619.8 650.3L1623.1 656.3L1616.5 656.3Z" fill="#f2373a"/>
<path d="M1670.7 608.3L1679.9 608.3L1675.3 617.1Z" fill="#4a98f5"/>
<path d="M1656.7 614.6L1665.9 614.6L1661.3 623.4Z" fill="#4a98f5"/>
<path d="M1684.7 613.3L1693.9 613.3L1689.3 622.1Z" fill="#4a98f5"/>
<path d="M1730.7 612.4L1735.1 616.8L1730.7 621.2L1726.3 616.8Z" fill="#8b8bf8"/>
<path d="M1730.7 622.4L1735.1 626.8L1730.7 631.2L1726.3 626.8Z" fill="#8b8bf8"/>
<path d="M1730.7 667.1L1735.1 671.5L1730.7 675.9L1726.3 671.5Z" fill="#8b8bf8"/>
<text transform="translate(1453.7,555.8) scale(1,1.06)" font-size="26" text-anchor="end">10</text>
<text transform="translate(1453.7,614.7) scale(1,1.06)" font-size="26" text-anchor="end">8</text>
<text transform="translate(1453.7,673.6) scale(1,1.06)" font-size="26" text-anchor="end">6</text>
<text transform="translate(1453.7,732.4) scale(1,1.06)" font-size="26" text-anchor="end">4</text>
<text transform="translate(1453.7,791.3) scale(1,1.06)" font-size="26" text-anchor="end">2</text>
<text transform="translate(1453.7,850.2) scale(1,1.06)" font-size="26" text-anchor="end">0</text>
<text transform="translate(1411.5,690.5) rotate(-90) scale(1,1.06)" font-size="25.8" text-anchor="middle">TNF-α mRNA relative level</text>
<path d="M1544.3 549.8H1624.3" stroke="#000" stroke-width="2.3" stroke-linecap="round"/>
<text transform="translate(1576.4,541.1) scale(1,1.06)" font-size="19.3" text-anchor="middle">ns</text>
<path d="M1544.3 516.4H1669.9" stroke="#000" stroke-width="2.3" stroke-linecap="round"/>
<text transform="translate(1607.0,508.3) scale(1,1.06)" font-size="19.3" text-anchor="middle">ns</text>
<path d="M1545.4 482.9H1726.0" stroke="#000" stroke-width="2.3" stroke-linecap="round"/>
<text transform="translate(1632.9,476.6) scale(1,1.06)" font-size="19.3" text-anchor="middle">ns</text>
<text transform="translate(1422.0,497.0) scale(1,1.06)" font-size="25.5" text-anchor="start" font-weight="bold">H</text>
<text transform="translate(1485.5,877.3) scale(1,1.06)" font-size="22.7" text-anchor="end">Poly(I:C)</text>
<text transform="translate(1509.6,877.3) scale(1,1.06)" font-size="22.7" text-anchor="middle">-</text>
<text x="1565.5" y="877.6" font-size="25" text-anchor="middle">+</text>
<text x="1620.8" y="877.6" font-size="25" text-anchor="middle">+</text>
<text x="1674.8" y="877.6" font-size="25" text-anchor="middle">+</text>
<text x="1733.3" y="877.6" font-size="25" text-anchor="middle">+</text>
<text transform="translate(1486.5,912.4) scale(1,1.06)" font-size="22.7" text-anchor="end">STE</text>
<text transform="translate(1511.8,912.4) scale(1,1.06)" font-size="22.7" text-anchor="middle">-</text>
<text transform="translate(1565.8,912.4) scale(1,1.06)" font-size="22.7" text-anchor="middle">-</text>
<text transform="translate(1620.8,912.4) scale(1,1.06)" font-size="22.7" text-anchor="middle">0.25</text>
<text transform="translate(1679.0,912.4) scale(1,1.06)" font-size="22.7" text-anchor="middle">0.5</text>
<text transform="translate(1733.3,912.4) scale(1,1.06)" font-size="22.7" text-anchor="middle">1</text>
<rect x="630.7" y="1329.4" width="37.2" height="3.4" fill="#d2d3d5"/>
<rect x="686.2" y="1151.1" width="37.2" height="181.7" fill="#b5dcea"/>
<rect x="741.6" y="1130.8" width="37.2" height="202.0" fill="#fda5a0"/>
<rect x="797.2" y="1147.7" width="37.2" height="185.1" fill="#c8dbf7"/>
<rect x="852.6" y="1126.4" width="37.2" height="206.4" fill="#c3c2fb"/>
<path d="M704.8 1143.7V1151.1M695.8 1143.7H713.8" stroke="#a5d5e8" stroke-width="1.3" fill="none"/>
<path d="M760.2 1104.2V1157.0M751.2 1104.2H769.2M751.2 1157.0H769.2" stroke="#f2373a" stroke-width="1.5" fill="none"/>
<path d="M815.8 1134.2V1147.7M806.8 1134.2H824.8" stroke="#bcd4f8" stroke-width="1.3" fill="none"/>
<path d="M871.2 1119.6V1126.4M862.2 1119.6H880.2" stroke="#bdbafc" stroke-width="1.3" fill="none"/>
<path d="M612.8 1040.5V1332.8M601.6 1332.8H908.2M601.6 1040.5H612.8M601.6 1113.6H612.8M601.6 1186.5H612.8M601.6 1259.4H612.8M649.3 1332.8V1344.1M704.8 1332.8V1344.1M760.2 1332.8V1344.1M815.8 1332.8V1344.1M871.2 1332.8V1344.1" stroke="#000" stroke-width="3.0" fill="none" stroke-linecap="round"/>
<rect x="611.30" y="1039.00" width="3.0" height="3.0" fill="#000"/>
<circle cx="638.0" cy="1332.8" r="3" fill="#5c5c5c"/>
<circle cx="649.8" cy="1332.8" r="3" fill="#5c5c5c"/>
<circle cx="661.9" cy="1332.8" r="3" fill="#5c5c5c"/>
<rect x="696.2" y="1143.0" width="6" height="6" fill="#8aa5d0"/>
<rect x="708.1" y="1145.1" width="6" height="6" fill="#8aa5d0"/>
<rect x="702.2" y="1156.2" width="6" height="6" fill="#8aa5d0"/>
<path d="M760.5 1098.3L763.8 1104.3L757.2 1104.3Z" fill="#f2373a"/>
<path d="M760.5 1133.3L763.8 1139.3L757.2 1139.3Z" fill="#f2373a"/>
<path d="M760.5 1151.1L763.8 1157.1L757.2 1157.1Z" fill="#f2373a"/>
<path d="M802.6 1132.0L811.8 1132.0L807.2 1140.8Z" fill="#4a98f5"/>
<path d="M820.4 1138.9L829.6 1138.9L825.0 1147.7Z" fill="#4a98f5"/>
<path d="M811.4 1157.9L820.6 1157.9L816.0 1166.7Z" fill="#4a98f5"/>
<path d="M862.6 1116.2L867.0 1120.6L862.6 1125.0L858.2 1120.6Z" fill="#8b8bf8"/>
<path d="M880.4 1120.0L884.8 1124.4L880.4 1128.8L876.0 1124.4Z" fill="#8b8bf8"/>
<path d="M871.4 1129.4L875.8 1133.8L871.4 1138.2L867.0 1133.8Z" fill="#8b8bf8"/>
<text transform="translate(594.1,1050.6) scale(1,1.06)" font-size="26" text-anchor="end">800</text>
<text transform="translate(594.1,1123.1) scale(1,1.06)" font-size="26" text-anchor="end">600</text>
<text transform="translate(594.1,1192.4) scale(1,1.06)" font-size="26" text-anchor="end">400</text>
<text transform="translate(594.1,1264.9) scale(1,1.06)" font-size="26" text-anchor="end">200</text>
<text transform="translate(594.1,1340.7) scale(1,1.06)" font-size="26" text-anchor="end">0</text>
<text transform="translate(530.0,1188.1) rotate(-90) scale(1,1.06)" font-size="25.8" text-anchor="middle">IFN-β mRNA relative level</text>
<path d="M698.2 1063.8H778.2" stroke="#000" stroke-width="2.3" stroke-linecap="round"/>
<text transform="translate(730.3,1055.1) scale(1,1.06)" font-size="19.3" text-anchor="middle">ns</text>
<path d="M698.2 1030.4H823.8" stroke="#000" stroke-width="2.3" stroke-linecap="round"/>
<text transform="translate(760.9,1022.3) scale(1,1.06)" font-size="19.3" text-anchor="middle">ns</text>
<path d="M699.3 996.9H879.9" stroke="#000" stroke-width="2.3" stroke-linecap="round"/>
<text transform="translate(786.8,990.6) scale(1,1.06)" font-size="19.3" text-anchor="middle">ns</text>
<text transform="translate(563.5,980.5) scale(1,1.06)" font-size="25.5" text-anchor="start" font-weight="bold">J</text>
<text transform="translate(626.7,1370.0) scale(1,1.06)" font-size="22.7" text-anchor="end">Poly(I:C)</text>
<text transform="translate(647.2,1370.0) scale(1,1.06)" font-size="22.7" text-anchor="middle">-</text>
<text x="704.1" y="1370.3" font-size="25" text-anchor="middle">+</text>
<text x="759.4" y="1370.3" font-size="25" text-anchor="middle">+</text>
<text x="813.1" y="1370.3" font-size="25" text-anchor="middle">+</text>
<text x="871.3" y="1370.3" font-size="25" text-anchor="middle">+</text>
<text transform="translate(624.5,1404.4) scale(1,1.06)" font-size="22.7" text-anchor="end">STE</text>
<text transform="translate(649.8,1404.4) scale(1,1.06)" font-size="22.7" text-anchor="middle">-</text>
<text transform="translate(704.4,1404.4) scale(1,1.06)" font-size="22.7" text-anchor="middle">-</text>
<text transform="translate(758.8,1404.4) scale(1,1.06)" font-size="22.7" text-anchor="middle">0.25</text>
<text transform="translate(816.9,1404.4) scale(1,1.06)" font-size="22.7" text-anchor="middle">0.5</text>
<text transform="translate(871.0,1404.4) scale(1,1.06)" font-size="22.7" text-anchor="middle">1</text>
<rect x="1072.7" y="1302.5" width="37.2" height="28.8" fill="#d2d3d5"/>
<rect x="1128.0" y="1119.1" width="37.2" height="212.2" fill="#b5dcea"/>
<rect x="1183.5" y="1119.7" width="37.2" height="211.6" fill="#fda5a0"/>
<rect x="1238.8" y="1101.3" width="37.2" height="230.0" fill="#c8dbf7"/>
<rect x="1294.2" y="1090.6" width="37.2" height="240.7" fill="#c3c2fb"/>
<path d="M1091.3 1298.4V1302.5M1082.3 1298.4H1100.3" stroke="#c4c4c4" stroke-width="1.3" fill="none"/>
<path d="M1146.6 1107.4V1119.1M1137.6 1107.4H1155.6" stroke="#a5d5e8" stroke-width="1.3" fill="none"/>
<path d="M1202.1 1092.2V1147.2M1193.1 1092.2H1211.1M1193.1 1147.2H1211.1" stroke="#f2373a" stroke-width="1.5" fill="none"/>
<path d="M1257.4 1077.6V1101.3M1248.4 1077.6H1266.4" stroke="#bcd4f8" stroke-width="1.3" fill="none"/>
<path d="M1312.8 1072.5V1090.6M1303.8 1072.5H1321.8" stroke="#bdbafc" stroke-width="1.3" fill="none"/>
<path d="M1054.8 1039.2V1331.3M1043.6 1331.3H1350.2M1043.6 1039.2H1054.8M1043.6 1097.7H1054.8M1043.6 1156.1H1054.8M1043.6 1214.6H1054.8M1043.6 1273.1H1054.8M1091.3 1331.3V1342.6M1146.6 1331.3V1342.6M1202.1 1331.3V1342.6M1257.4 1331.3V1342.6M1312.8 1331.3V1342.6" stroke="#000" stroke-width="3.0" fill="none" stroke-linecap="round"/>
<rect x="1053.30" y="1037.70" width="3.0" height="3.0" fill="#000"/>
<circle cx="1085.6" cy="1299.0" r="3" fill="#5c5c5c"/>
<circle cx="1085.6" cy="1307.0" r="3" fill="#5c5c5c"/>
<circle cx="1097.1" cy="1302.2" r="3" fill="#5c5c5c"/>
<rect x="1143.8" y="1103.2" width="6" height="6" fill="#8aa5d0"/>
<rect x="1143.8" y="1120.6" width="6" height="6" fill="#8aa5d0"/>
<rect x="1143.8" y="1125.2" width="6" height="6" fill="#8aa5d0"/>
<path d="M1202.2 1096.9L1205.5 1102.9L1198.9 1102.9Z" fill="#f2373a"/>
<path d="M1202.2 1105.3L1205.5 1111.3L1198.9 1111.3Z" fill="#f2373a"/>
<path d="M1202.2 1147.7L1205.5 1153.7L1198.9 1153.7Z" fill="#f2373a"/>
<path d="M1252.8 1070.7L1262.0 1070.7L1257.4 1079.5Z" fill="#4a98f5"/>
<path d="M1252.8 1102.9L1262.0 1102.9L1257.4 1111.7Z" fill="#4a98f5"/>
<path d="M1252.8 1117.2L1262.0 1117.2L1257.4 1126.0Z" fill="#4a98f5"/>
<path d="M1303.9 1072.7L1308.3 1077.1L1303.9 1081.5L1299.5 1077.1Z" fill="#8b8bf8"/>
<path d="M1321.7 1079.8L1326.1 1084.2L1321.7 1088.6L1317.3 1084.2Z" fill="#8b8bf8"/>
<path d="M1312.8 1106.0L1317.2 1110.4L1312.8 1114.8L1308.4 1110.4Z" fill="#8b8bf8"/>
<text transform="translate(1033.7,1046.3) scale(1,1.06)" font-size="26" text-anchor="end">10</text>
<text transform="translate(1033.7,1105.1) scale(1,1.06)" font-size="26" text-anchor="end">8</text>
<text transform="translate(1033.7,1163.9) scale(1,1.06)" font-size="26" text-anchor="end">6</text>
<text transform="translate(1033.7,1222.6) scale(1,1.06)" font-size="26" text-anchor="end">4</text>
<text transform="translate(1033.7,1281.4) scale(1,1.06)" font-size="26" text-anchor="end">2</text>
<text transform="translate(1033.7,1340.2) scale(1,1.06)" font-size="26" text-anchor="end">0</text>
<text transform="translate(993.9,1188.1) rotate(-90) scale(1,1.06)" font-size="25.8" text-anchor="middle">TNF-α mRNA relative level</text>
<path d="M1140.4 1064.0H1220.4" stroke="#000" stroke-width="2.3" stroke-linecap="round"/>
<text transform="translate(1172.5,1055.3) scale(1,1.06)" font-size="19.3" text-anchor="middle">ns</text>
<path d="M1140.4 1030.6H1266.0" stroke="#000" stroke-width="2.3" stroke-linecap="round"/>
<text transform="translate(1203.1,1022.5) scale(1,1.06)" font-size="19.3" text-anchor="middle">ns</text>
<path d="M1141.5 997.1H1322.1" stroke="#000" stroke-width="2.3" stroke-linecap="round"/>
<text transform="translate(1229.0,990.8) scale(1,1.06)" font-size="19.3" text-anchor="middle">ns</text>
<text transform="translate(994.0,980.7) scale(1,1.06)" font-size="25.5" text-anchor="start" font-weight="bold">K</text>
<text transform="translate(1067.7,1370.0) scale(1,1.06)" font-size="22.7" text-anchor="end">Poly(I:C)</text>
<text transform="translate(1091.4,1370.0) scale(1,1.06)" font-size="22.7" text-anchor="middle">-</text>
<text x="1147.6" y="1370.3" font-size="25" text-anchor="middle">+</text>
<text x="1202.6" y="1370.3" font-size="25" text-anchor="middle">+</text>
<text x="1256.6" y="1370.3" font-size="25" text-anchor="middle">+</text>
<text x="1315.1" y="1370.3" font-size="25" text-anchor="middle">+</text>
<text transform="translate(1068.6,1404.4) scale(1,1.06)" font-size="22.7" text-anchor="end">STE</text>
<text transform="translate(1093.6,1404.4) scale(1,1.06)" font-size="22.7" text-anchor="middle">-</text>
<text transform="translate(1148.0,1404.4) scale(1,1.06)" font-size="22.7" text-anchor="middle">-</text>
<text transform="translate(1202.6,1404.4) scale(1,1.06)" font-size="22.7" text-anchor="middle">0.25</text>
<text transform="translate(1260.8,1404.4) scale(1,1.06)" font-size="22.7" text-anchor="middle">0.5</text>
<text transform="translate(1315.1,1404.4) scale(1,1.06)" font-size="22.7" text-anchor="middle">1</text>
<rect x="1489.8" y="1216.4" width="37.2" height="114.9" fill="#d2d3d5"/>
<rect x="1545.2" y="1133.5" width="37.2" height="197.8" fill="#b5dcea"/>
<rect x="1600.6" y="1176.2" width="37.2" height="155.1" fill="#fda5a0"/>
<rect x="1655.9" y="1124.6" width="37.2" height="206.7" fill="#c8dbf7"/>
<rect x="1711.3" y="1146.0" width="37.2" height="185.3" fill="#c3c2fb"/>
<path d="M1508.4 1194.2V1216.4M1499.4 1194.2H1517.4" stroke="#c4c4c4" stroke-width="1.3" fill="none"/>
<path d="M1563.8 1125.4V1133.5M1554.8 1125.4H1572.8" stroke="#a5d5e8" stroke-width="1.3" fill="none"/>
<path d="M1619.2 1157.6V1194.8M1610.2 1157.6H1628.2M1610.2 1194.8H1628.2" stroke="#f2373a" stroke-width="1.5" fill="none"/>
<path d="M1674.5 1107.8V1124.6M1665.5 1107.8H1683.5" stroke="#bcd4f8" stroke-width="1.3" fill="none"/>
<path d="M1729.9 1130.7V1146.0M1720.9 1130.7H1738.9" stroke="#bdbafc" stroke-width="1.3" fill="none"/>
<path d="M1472.5 1041.4V1331.3M1461.3 1331.3H1767.2M1461.3 1041.4H1472.5M1461.3 1099.6H1472.5M1461.3 1157.7H1472.5M1461.3 1215.6H1472.5M1461.3 1273.8H1472.5M1508.4 1331.3V1342.6M1563.8 1331.3V1342.6M1619.2 1331.3V1342.6M1674.5 1331.3V1342.6M1729.9 1331.3V1342.6" stroke="#000" stroke-width="3.0" fill="none" stroke-linecap="round"/>
<rect x="1471.00" y="1039.90" width="3.0" height="3.0" fill="#000"/>
<circle cx="1508.5" cy="1193.8" r="3" fill="#5c5c5c"/>
<circle cx="1508.5" cy="1217.2" r="3" fill="#5c5c5c"/>
<circle cx="1508.5" cy="1237.5" r="3" fill="#5c5c5c"/>
<rect x="1560.9" y="1121.9" width="6" height="6" fill="#8aa5d0"/>
<rect x="1560.9" y="1131.8" width="6" height="6" fill="#8aa5d0"/>
<rect x="1560.9" y="1137.8" width="6" height="6" fill="#8aa5d0"/>
<path d="M1619.3 1153.3L1622.6 1159.3L1616.0 1159.3Z" fill="#f2373a"/>
<path d="M1619.3 1176.9L1622.6 1182.9L1616.0 1182.9Z" fill="#f2373a"/>
<path d="M1619.3 1190.8L1622.6 1196.8L1616.0 1196.8Z" fill="#f2373a"/>
<path d="M1661.1 1110.5L1670.3 1110.5L1665.7 1119.3Z" fill="#4a98f5"/>
<path d="M1678.9 1110.8L1688.1 1110.8L1683.5 1119.6Z" fill="#4a98f5"/>
<path d="M1670.0 1138.9L1679.2 1138.9L1674.6 1147.7Z" fill="#4a98f5"/>
<path d="M1721.1 1132.6L1725.5 1137.0L1721.1 1141.4L1716.7 1137.0Z" fill="#8b8bf8"/>
<path d="M1738.9 1133.7L1743.3 1138.1L1738.9 1142.5L1734.5 1138.1Z" fill="#8b8bf8"/>
<path d="M1730.0 1158.6L1734.4 1163.0L1730.0 1167.4L1725.6 1163.0Z" fill="#8b8bf8"/>
<text transform="translate(1454.5,1048.7) scale(1,1.06)" font-size="26" text-anchor="end">2.5</text>
<text transform="translate(1454.5,1106.9) scale(1,1.06)" font-size="26" text-anchor="end">2.0</text>
<text transform="translate(1454.5,1164.6) scale(1,1.06)" font-size="26" text-anchor="end">1.5</text>
<text transform="translate(1454.5,1220.2) scale(1,1.06)" font-size="26" text-anchor="end">1.5</text>
<text transform="translate(1454.5,1279.4) scale(1,1.06)" font-size="26" text-anchor="end">0.5</text>
<text transform="translate(1454.5,1339.3) scale(1,1.06)" font-size="26" text-anchor="end">0</text>
<text transform="translate(1409.3,1193.5) rotate(-90) scale(1,1.06)" font-size="25.8" text-anchor="middle">IFIT1 mRNA relative level</text>
<path d="M1555.9 1064.0H1635.9" stroke="#000" stroke-width="2.3" stroke-linecap="round"/>
<text transform="translate(1598.7,1065.8) scale(1,1.06)" font-size="20" text-anchor="middle">*</text>
<path d="M1555.9 1030.6H1681.5" stroke="#000" stroke-width="2.3" stroke-linecap="round"/>
<text transform="translate(1618.6,1022.5) scale(1,1.06)" font-size="19.3" text-anchor="middle">ns</text>
<path d="M1557.0 997.1H1737.6" stroke="#000" stroke-width="2.3" stroke-linecap="round"/>
<text transform="translate(1644.5,990.8) scale(1,1.06)" font-size="19.3" text-anchor="middle">ns</text>
<text transform="translate(1409.0,980.7) scale(1,1.06)" font-size="25.5" text-anchor="start" font-weight="bold">L</text>
<text transform="translate(1482.7,1370.0) scale(1,1.06)" font-size="22.7" text-anchor="end">Poly(I:C)</text>
<text transform="translate(1506.4,1370.0) scale(1,1.06)" font-size="22.7" text-anchor="middle">-</text>
<text x="1563.3" y="1370.3" font-size="25" text-anchor="middle">+</text>
<text x="1618.3" y="1370.3" font-size="25" text-anchor="middle">+</text>
<text x="1672.0" y="1370.3" font-size="25" text-anchor="middle">+</text>
<text x="1730.4" y="1370.3" font-size="25" text-anchor="middle">+</text>
<text transform="translate(1483.7,1404.4) scale(1,1.06)" font-size="22.7" text-anchor="end">STE</text>
<text transform="translate(1509.0,1404.4) scale(1,1.06)" font-size="22.7" text-anchor="middle">-</text>
<text transform="translate(1563.3,1404.4) scale(1,1.06)" font-size="22.7" text-anchor="middle">-</text>
<text transform="translate(1618.0,1404.4) scale(1,1.06)" font-size="22.7" text-anchor="middle">0.25</text>
<text transform="translate(1676.1,1404.4) scale(1,1.06)" font-size="22.7" text-anchor="middle">0.5</text>
<text transform="translate(1729.8,1404.4) scale(1,1.06)" font-size="22.7" text-anchor="middle">1</text>
</svg>
</body></html>
